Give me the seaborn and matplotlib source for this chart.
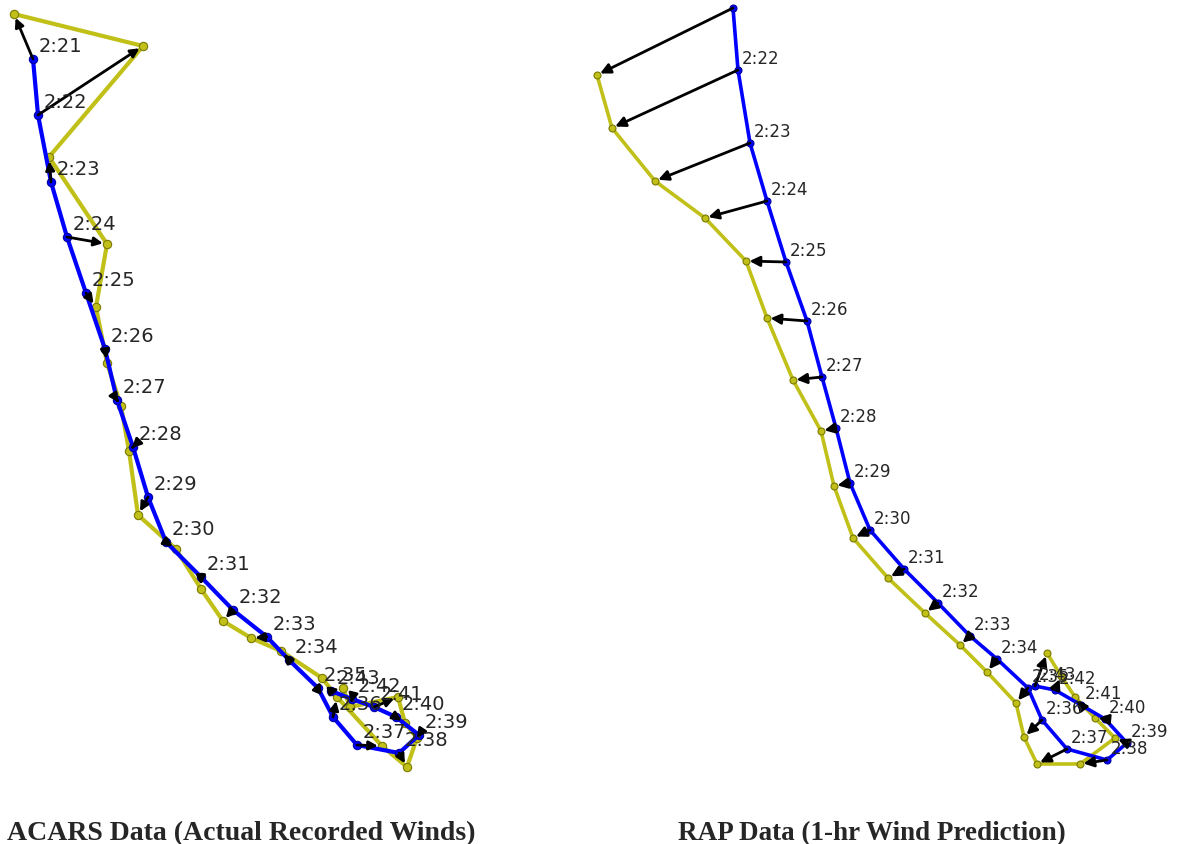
import numpy as np
import pandas as pd
import matplotlib
matplotlib.use("Agg")
import matplotlib.pyplot as plt
import seaborn as sns

sns.set_style("white")

times = ["2:%02d" % m for m in range(21, 44)]

# Left panel: ACARS (actual recorded winds)
acars_track_x = [33, 38, 51, 67, 86, 105, 117, 133, 148, 166, 201, 233, 267, 289, 318, 333, 357, 399, 419, 396, 374, 352, 331]
acars_track_y = [59, 115, 182, 237, 293, 349, 400, 447, 497, 542, 577, 610, 637, 660, 688, 717, 745, 753, 735, 717, 707, 699, 691]
acars_wind_x = [14, 143, 49, 107, 96, 107, 121, 129, 138, 176, 201, 223, 251, 281, 322, 337, 382, 407, 417, 405, 398, 350, 343]
acars_wind_y = [14, 46, 157, 244, 307, 363, 406, 451, 515, 549, 589, 621, 638, 651, 678, 697, 746, 767, 738, 723, 697, 707, 688]

# Right panel: RAP (1-hr wind prediction)
rap_track_x = [733, 738, 750, 767, 786, 807, 822, 836, 850, 870, 904, 938, 970, 997, 1028, 1042, 1067, 1107, 1127, 1105, 1081, 1055, 1035]
rap_track_y = [8, 70, 143, 201, 262, 321, 377, 428, 483, 530, 569, 603, 636, 659, 688, 720, 749, 760, 743, 719, 705, 690, 686]
rap_wind_x = [597, 612, 655, 705, 746, 767, 793, 821, 834, 853, 888, 925, 960, 987, 1016, 1024, 1037, 1080, 1115, 1095, 1075, 1061, 1047]
rap_wind_y = [75, 128, 181, 218, 261, 318, 380, 431, 486, 538, 578, 613, 645, 672, 703, 737, 764, 764, 738, 718, 697, 676, 653]

captions = ["ACARS Data (Actual Recorded Winds)", "RAP Data (1-hr Wind Prediction)"]

W, H = 1177, 844
fig = plt.figure(figsize=(W / 100, H / 100), dpi=100)
fig.patch.set_facecolor("white")

YEL = "#c0c018"
YEL_EDGE = "#7a7a00"
BLU = "#0000ff"
BLU_EDGE = "#0000a0"


def panel(ax, tx, ty, wx, wy, x0, x1, lw, ms, fs, off, label_first, head):
    df = pd.DataFrame({"t": times, "tx": tx, "ty": ty, "wx": wx, "wy": wy})
    sns.lineplot(data=df, x="wx", y="wy", sort=False, estimator=None, ax=ax,
                 color=YEL, lw=lw, marker="o", markersize=ms,
                 markerfacecolor=YEL, markeredgecolor=YEL_EDGE, markeredgewidth=0.8, zorder=2)
    sns.lineplot(data=df, x="tx", y="ty", sort=False, estimator=None, ax=ax,
                 color=BLU, lw=lw, marker="o", markersize=ms,
                 markerfacecolor=BLU, markeredgecolor=BLU_EDGE, markeredgewidth=0.8, zorder=3)
    for i, r in df.iterrows():
        ax.annotate("", xy=(r.wx, r.wy), xytext=(r.tx, r.ty),
                    arrowprops=dict(arrowstyle="-|>", color="black", lw=2.0,
                                    mutation_scale=head, shrinkA=0, shrinkB=ms * 0.5),
                    zorder=4)
        if i == 0 and not label_first:
            continue
        ax.annotate(r.t, (r.tx, r.ty), xytext=off, textcoords="offset points",
                    ha="left", va="center", fontsize=fs, color="#262626", zorder=5,
                    annotation_clip=True)
    ax.set_xlim(x0, x1)
    ax.set_ylim(H, 0)
    ax.set_axis_off()


axL = fig.add_axes([0, 0, 560 / W, 1])
panel(axL, acars_track_x, acars_track_y, acars_wind_x, acars_wind_y, 0, 560, 3.0, 6, 14, (4, 9), True, 13)
axR = fig.add_axes([560 / W, 0, 617 / W, 1])
panel(axR, rap_track_x, rap_track_y, rap_wind_x, rap_wind_y, 560, W, 2.6, 5, 12, (3, 8), False, 15)

fig.text(7 / W, 1 - 840 / H, captions[0], ha="left", va="baseline", fontsize=20,
         fontweight="bold", family="Liberation Serif")
fig.text(678 / W, 1 - 840 / H, captions[1], ha="left", va="baseline", fontsize=19.5,
         fontweight="bold", family="Liberation Serif")

fig.savefig("out.png", dpi=100, facecolor="white")
